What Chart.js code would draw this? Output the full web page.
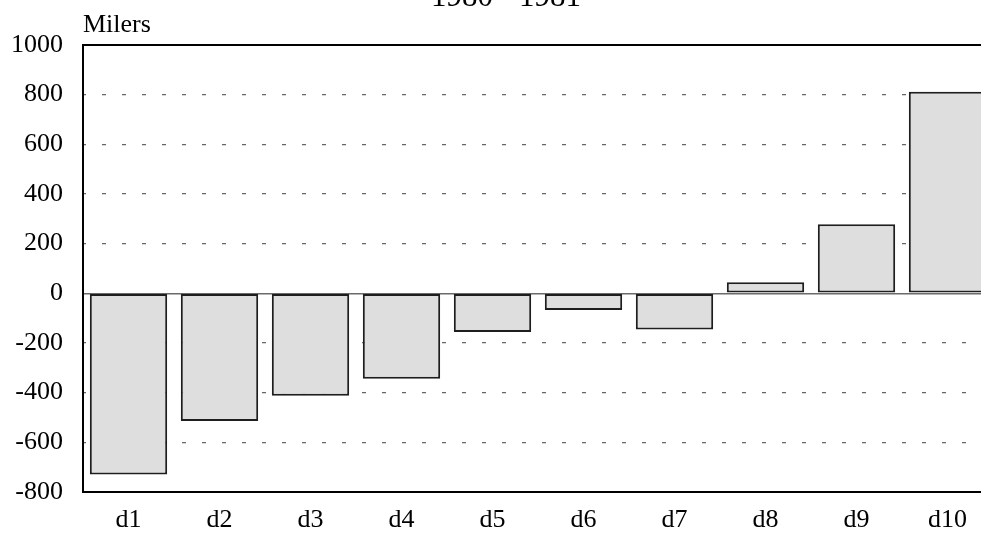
<!DOCTYPE html>
<html>
<head>
<meta charset="utf-8">
<script src="https://cdn.jsdelivr.net/npm/chart.js@4"></script>
<style>
  html, body { margin: 0; padding: 0; background: #fff; overflow: hidden; }
  #wrap { position: relative; width: 981px; height: 538px; overflow: hidden; }
  canvas { display: block; position: absolute; left: 0; top: 0; }
</style>
</head>
<body>
<div id="wrap"><canvas id="c" width="993" height="538"></canvas></div>
<script>
const categories = ['d1', 'd2', 'd3', 'd4', 'd5', 'd6', 'd7', 'd8', 'd9', 'd10'];
const values = [-730, -514, -412, -344, -156, -67, -146, 45, 278, 812];
const titleText = '1980 - 1981';
const unitText = 'Milers';
const yMin = -800;
const yMax = 1000;
const yStep = 200;

const FONT = '"Liberation Serif", "Times New Roman", serif';

const textPlugin = {
  id: 'extraText',
  afterDraw(chart) {
    const ctx = chart.ctx;
    const area = chart.chartArea;
    ctx.save();
    ctx.fillStyle = '#000';
    ctx.textBaseline = 'alphabetic';
    ctx.textAlign = 'center';
    ctx.font = '31px ' + FONT;
    ctx.fillText(titleText, 506, 6);
    ctx.textAlign = 'left';
    ctx.font = '26px ' + FONT;
    ctx.fillText(unitText, area.left, area.top - 13);
    ctx.restore();
  }
};

new Chart(document.getElementById('c'), {
  type: 'bar',
  data: {
    labels: categories,
    datasets: [{
      data: values,
      backgroundColor: '#dedede',
      borderColor: '#1e1e1e',
      borderWidth: 2,
      borderSkipped: false,
      barPercentage: 0.85,
      categoryPercentage: 1.0
    }]
  },
  options: {
    responsive: false,
    animation: false,
    devicePixelRatio: 1,
    layout: { padding: { top: 45, left: 0, right: 0, bottom: 0 } },
    plugins: {
      legend: { display: false },
      title: { display: false },
      tooltip: { enabled: false }
    },
    scales: {
      x: {
        offset: true,
        afterFit(scale) { scale.height = 46; },
        grid: { display: false, drawTicks: false },
        border: { display: true, color: '#000', width: 2 },
        ticks: {
          color: '#000',
          padding: 13,
          font: { family: FONT, size: 26 },
          maxRotation: 0
        }
      },
      y: {
        min: yMin,
        max: yMax,
        afterFit(scale) { scale.width = 83; },
        grid: {
          drawTicks: false,
          color(ctx) {
            const v = ctx.tick && ctx.tick.value;
            if (v === yMax || v === yMin) return '#000';
            if (v === 0) return '#6a6a6a';
            return '#666';
          },
          lineWidth(ctx) {
            const v = ctx.tick && ctx.tick.value;
            if (v === yMax) return 2;
            if (v === 0) return 1.5;
            return 1.3;
          }
        },
        border: {
          display: true,
          color: '#000',
          width: 2,
          dash(ctx) {
            const v = ctx.tick && ctx.tick.value;
            if (v === undefined || v === yMax || v === yMin || v === 0) return [];
            return [4, 16];
          },
          dashOffset: 2
        },
        ticks: {
          stepSize: yStep,
          color: '#000',
          padding: 20,
          font: { family: FONT, size: 26 },
          callback: (v) => String(v)
        }
      }
    }
  },
  plugins: [textPlugin]
});
</script>
</body>
</html>
